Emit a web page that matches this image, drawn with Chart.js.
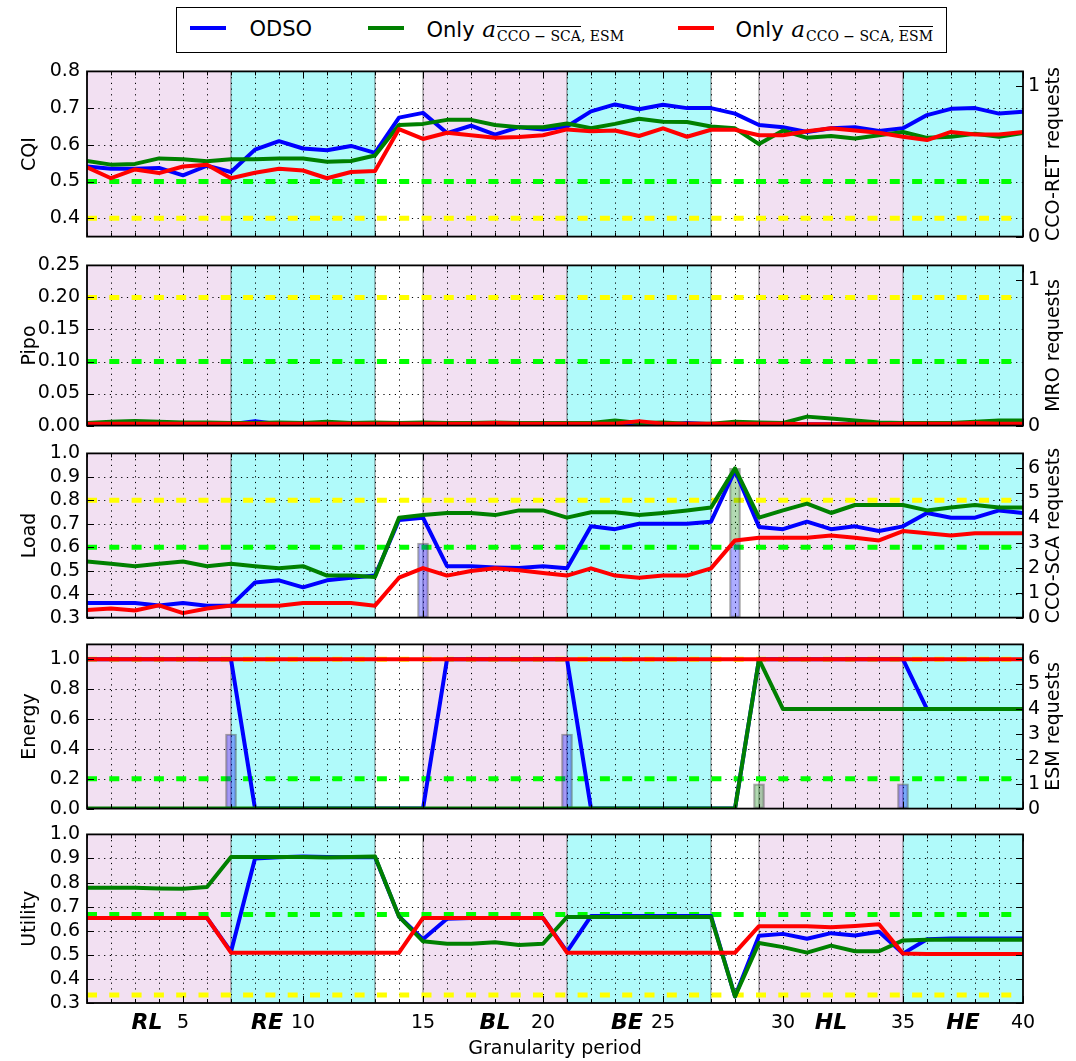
<!DOCTYPE html>
<html>
<head>
<meta charset="utf-8">
<script src="https://cdn.jsdelivr.net/npm/chart.js@4.4.0/dist/chart.umd.min.js"></script>
<style>
  body { margin: 0; background: #fff; width: 1076px; height: 1061px; position: relative; overflow: hidden; font-family: 'DejaVu Sans', sans-serif; }
  canvas { position: absolute; left: 0; }
  #legend { position: absolute; left: 176px; top: 7px; width: 771px; height: 46px; border: 1.5px solid #000; box-sizing: border-box; background: #fff; z-index: 5; }
  #legend .key { position: absolute; top: 18px; width: 36px; height: 4px; }
  #legend .lbl { position: absolute; top: 9px; line-height: 24px; font-size: 21px; white-space: nowrap; color: #000; }
  .m { font-family: 'DejaVu Serif', serif; }
  .m i { font-size: 23px; margin-left: 1px; }
  .m sub { font-size: 14px; font-style: normal; vertical-align: -4px; margin-left: 1px; }
  .ov { border-top: 1.2px solid #000; padding-top: 1px; }
</style>
</head>
<body>
<div id="legend">
  <div class="key" style="left:12.5px;background:#0000ff"></div>
  <span class="lbl" style="left:72.5px">ODSO</span>
  <div class="key" style="left:190.5px;background:#008000"></div>
  <span class="lbl" style="left:249.5px">Only <span class="m"><i>a</i><sub><span class="ov">CCO − SCA</span>, ESM</sub></span></span>
  <div class="key" style="left:500.5px;background:#ff0000"></div>
  <span class="lbl" style="left:558.5px">Only <span class="m"><i>a</i><sub>CCO − SCA, <span class="ov">ESM</span></sub></span></span>
</div>
<script>
// granularity periods
const periods = [1, 2, 3, 4, 5, 6, 7, 8, 9, 10, 11, 12, 13, 14, 15, 16, 17, 18, 19, 20,
                 21, 22, 23, 24, 25, 26, 27, 28, 29, 30, 31, 32, 33, 34, 35, 36, 37, 38, 39, 40];
const xTickLabels = [5, 10, 15, 20, 25, 30, 35, 40];

// traffic phases
const regionStart = [1, 7, 13, 15, 21, 27, 29, 35];
const regionEnd   = [7, 13, 15, 21, 27, 29, 35, 40];
const regionKind  = ['low', 'high', 'idle', 'low', 'high', 'idle', 'low', 'high'];
const regionNames = ['RL', 'RE', 'BL', 'BE', 'HL', 'HE'];
const regionNamePos = [3.5, 8.5, 18, 23.5, 32, 37.5];

// CQI
const cqiOdso  = [0.541, 0.535, 0.535, 0.537, 0.517, 0.543, 0.526, 0.587, 0.610, 0.590, 0.585, 0.597, 0.578, 0.674, 0.687, 0.632, 0.652, 0.628, 0.648, 0.642,
                  0.650, 0.691, 0.710, 0.697, 0.709, 0.700, 0.700, 0.685, 0.654, 0.648, 0.635, 0.645, 0.648, 0.638, 0.645, 0.681, 0.698, 0.700, 0.685, 0.690];
const cqiNoSca = [0.556, 0.546, 0.548, 0.563, 0.561, 0.555, 0.561, 0.561, 0.563, 0.563, 0.554, 0.556, 0.571, 0.654, 0.657, 0.668, 0.668, 0.654, 0.648, 0.648,
                  0.658, 0.645, 0.657, 0.671, 0.663, 0.662, 0.650, 0.645, 0.602, 0.639, 0.619, 0.624, 0.617, 0.626, 0.635, 0.619, 0.622, 0.630, 0.622, 0.632];
const cqiNoEsm = [0.539, 0.509, 0.533, 0.523, 0.541, 0.546, 0.509, 0.524, 0.535, 0.530, 0.509, 0.526, 0.529, 0.643, 0.616, 0.633, 0.626, 0.619, 0.621, 0.626,
                  0.642, 0.637, 0.639, 0.624, 0.645, 0.622, 0.641, 0.641, 0.626, 0.626, 0.637, 0.645, 0.639, 0.633, 0.622, 0.613, 0.635, 0.628, 0.628, 0.635];
const cqiLimits = [0.5, 0.4];
const cqiTicks = [0.4, 0.5, 0.6, 0.7, 0.8];

// Pipo
const pipoOdso  = [0.002, 0.002, 0.002, 0.002, 0.002, 0.003, 0.002, 0.007, 0.002, 0.003, 0.002, 0.003, 0.003, 0.004, 0.002, 0.002, 0.002, 0.001, 0.002, 0.002,
                   0.002, 0.002, 0.002, 0.003, 0.001, 0.004, 0.002, 0.002, 0.003, 0.002, 0.002, 0.002, 0.002, 0.001, 0.002, 0.002, 0.001, 0.001, 0.001, 0.002];
const pipoNoSca = [0.004, 0.006, 0.007, 0.006, 0.005, 0.005, 0.004, 0.004, 0.005, 0.004, 0.006, 0.004, 0.005, 0.004, 0.005, 0.004, 0.004, 0.005, 0.004, 0.004,
                   0.004, 0.004, 0.008, 0.004, 0.005, 0.003, 0.003, 0.006, 0.005, 0.004, 0.014, 0.011, 0.008, 0.005, 0.004, 0.004, 0.004, 0.006, 0.008, 0.008];
const pipoNoEsm = [0.003, 0.003, 0.003, 0.003, 0.003, 0.003, 0.003, 0.003, 0.003, 0.003, 0.003, 0.003, 0.003, 0.003, 0.003, 0.003, 0.003, 0.004, 0.003, 0.003,
                   0.003, 0.003, 0.003, 0.007, 0.003, 0.003, 0.003, 0.003, 0.003, 0.003, 0.002, 0.002, 0.002, 0.002, 0.003, 0.003, 0.003, 0.004, 0.003, 0.003];
const pipoLimits = [0.1, 0.2];
const pipoTicks = [0, 0.05, 0.1, 0.15, 0.2, 0.25];

// Load
const loadOdso  = [0.362, 0.362, 0.362, 0.352, 0.362, 0.351, 0.351, 0.450, 0.459, 0.429, 0.459, 0.470, 0.479, 0.716, 0.726, 0.519, 0.519, 0.514, 0.511, 0.519,
                   0.510, 0.689, 0.677, 0.700, 0.700, 0.700, 0.709, 0.927, 0.686, 0.677, 0.709, 0.677, 0.689, 0.669, 0.689, 0.746, 0.726, 0.726, 0.757, 0.746];
const loadNoSca = [0.539, 0.530, 0.519, 0.530, 0.539, 0.519, 0.530, 0.519, 0.510, 0.519, 0.479, 0.479, 0.473, 0.726, 0.737, 0.746, 0.746, 0.737, 0.757, 0.757,
                   0.726, 0.749, 0.749, 0.737, 0.746, 0.757, 0.769, 0.936, 0.726, 0.757, 0.786, 0.746, 0.780, 0.780, 0.780, 0.757, 0.769, 0.780, 0.769, 0.769];
const loadNoEsm = [0.332, 0.339, 0.330, 0.352, 0.319, 0.339, 0.351, 0.351, 0.351, 0.362, 0.362, 0.362, 0.351, 0.470, 0.511, 0.479, 0.499, 0.510, 0.502, 0.490,
                   0.479, 0.510, 0.479, 0.470, 0.479, 0.479, 0.510, 0.629, 0.640, 0.640, 0.640, 0.650, 0.640, 0.629, 0.669, 0.660, 0.650, 0.660, 0.660, 0.660];
const loadLimits = [0.6, 0.8];
const loadTicks = [0.3, 0.4, 0.5, 0.6, 0.7, 0.8, 0.9, 1.0];
// CCO-SCA requests, stacked: green sits on top of blue
const scaReqOdso  = [0, 0, 0, 0, 0, 0, 0, 0, 0, 0, 0, 0, 0, 0, 3, 0, 0, 0, 0, 0,
                     0, 0, 0, 0, 0, 0, 0, 3, 0, 0, 0, 0, 0, 0, 0, 0, 0, 0, 0, 0];
const scaReqNoSca = [0, 0, 0, 0, 0, 0, 0, 0, 0, 0, 0, 0, 0, 0, 0, 0, 0, 0, 0, 0,
                     0, 0, 0, 0, 0, 0, 0, 3, 0, 0, 0, 0, 0, 0, 0, 0, 0, 0, 0, 0];

// Energy
const energyOdso  = [1, 1, 1, 1, 1, 1, 1, 0, 0, 0, 0, 0, 0, 0, 0, 1, 1, 1, 1, 1,
                     1, 0, 0, 0, 0, 0, 0, 0, 1, 1, 1, 1, 1, 1, 1, 0.667, 0.667, 0.667, 0.667, 0.667];
const energyNoSca = [0, 0, 0, 0, 0, 0, 0, 0, 0, 0, 0, 0, 0, 0, 0, 0, 0, 0, 0, 0,
                     0, 0, 0, 0, 0, 0, 0, 0, 1, 0.667, 0.667, 0.667, 0.667, 0.667, 0.667, 0.667, 0.667, 0.667, 0.667, 0.667];
const energyNoEsm = [1, 1, 1, 1, 1, 1, 1, 1, 1, 1, 1, 1, 1, 1, 1, 1, 1, 1, 1, 1,
                     1, 1, 1, 1, 1, 1, 1, 1, 1, 1, 1, 1, 1, 1, 1, 1, 1, 1, 1, 1];
const energyLimits = [0.2, 1.0];
const energyTicks = [0, 0.2, 0.4, 0.6, 0.8, 1.0];
const esmReqOdso  = [0, 0, 0, 0, 0, 0, 3, 0, 0, 0, 0, 0, 0, 0, 0, 0, 0, 0, 0, 0,
                     3, 0, 0, 0, 0, 0, 0, 0, 0, 0, 0, 0, 0, 0, 1, 0, 0, 0, 0, 0];
const esmReqNoSca = [0, 0, 0, 0, 0, 0, 0, 0, 0, 0, 0, 0, 0, 0, 0, 0, 0, 0, 0, 0,
                     0, 0, 0, 0, 0, 0, 0, 0, 1, 0, 0, 0, 0, 0, 0, 0, 0, 0, 0, 0];

// Utility
const utilOdso  = [0.653, 0.653, 0.653, 0.653, 0.653, 0.653, 0.513, 0.900, 0.905, 0.908, 0.906, 0.905, 0.906, 0.659, 0.565, 0.650, 0.653, 0.653, 0.653, 0.653,
                   0.513, 0.661, 0.661, 0.661, 0.661, 0.661, 0.661, 0.327, 0.579, 0.587, 0.567, 0.590, 0.580, 0.596, 0.505, 0.565, 0.568, 0.568, 0.568, 0.568];
const utilNoSca = [0.778, 0.778, 0.778, 0.775, 0.774, 0.782, 0.906, 0.906, 0.906, 0.906, 0.904, 0.906, 0.908, 0.659, 0.556, 0.546, 0.546, 0.552, 0.541, 0.546,
                   0.657, 0.657, 0.657, 0.657, 0.657, 0.657, 0.657, 0.327, 0.549, 0.532, 0.509, 0.538, 0.515, 0.515, 0.560, 0.563, 0.563, 0.563, 0.563, 0.563];
const utilNoEsm = [0.653, 0.653, 0.653, 0.653, 0.653, 0.653, 0.509, 0.509, 0.509, 0.509, 0.509, 0.509, 0.509, 0.509, 0.653, 0.653, 0.653, 0.653, 0.653, 0.653,
                   0.509, 0.509, 0.509, 0.509, 0.509, 0.509, 0.509, 0.509, 0.619, 0.619, 0.619, 0.614, 0.620, 0.627, 0.505, 0.503, 0.503, 0.503, 0.503, 0.503];
const utilLimits = [0.667, 0.333];
const utilTicks = [0.3, 0.4, 0.5, 0.6, 0.7, 0.8, 0.9, 1.0];

const BLUE = '#0000ff', GREEN = '#008000', RED = '#ff0000';
const LIME = '#00ff00', YELLOW = '#ffff00';
const regionFill = { low: '#f2e0f2', high: '#b0fafa', idle: null };
const FONT = "'DejaVu Sans', sans-serif";

const panels = [
  { top: 67,  bottom: 241, title: 'CQI', min: 0.35, max: 0.8, ticks: cqiTicks, digits: 1,
    series: [cqiOdso, cqiNoSca, cqiNoEsm], limits: [[cqiLimits[0], LIME], [cqiLimits[1], YELLOW]],
    right: 'CCO-RET requests', rmax: 1.1, rticks: [0, 1], bars: [] },
  { top: 261, bottom: 430, title: 'Pipo', min: 0, max: 0.25, ticks: pipoTicks, digits: 2,
    series: [pipoOdso, pipoNoSca, pipoNoEsm], limits: [[pipoLimits[0], LIME], [pipoLimits[1], YELLOW]],
    right: 'MRO requests', rmax: 1.1, rticks: [0, 1], bars: [] },
  { top: 449, bottom: 622, title: 'Load', min: 0.3, max: 1.0, ticks: loadTicks, digits: 1,
    series: [loadOdso, loadNoSca, loadNoEsm], limits: [[loadLimits[0], LIME], [loadLimits[1], YELLOW]],
    right: 'CCO-SCA requests', rmax: 6.6, rticks: [0, 1, 2, 3, 4, 5, 6],
    bars: [[scaReqOdso, 'rgba(0,0,255,0.32)', 5], [scaReqNoSca, 'rgba(0,128,0,0.3)', 6]] },
  { top: 640, bottom: 813, title: 'Energy', min: 0, max: 1.1, ticks: energyTicks, digits: 1,
    series: [energyOdso, energyNoSca, energyNoEsm], limits: [[energyLimits[0], LIME], [energyLimits[1], YELLOW]],
    right: 'ESM requests', rmax: 6.6, rticks: [0, 1, 2, 3, 4, 5, 6],
    bars: [[esmReqOdso, 'rgba(0,0,255,0.32)', 5], [esmReqNoSca, 'rgba(0,128,0,0.3)', 6]] },
  { top: 830, bottom: 1003, title: 'Utility', min: 0.3, max: 1.0, ticks: utilTicks, digits: 1,
    series: [utilOdso, utilNoSca, utilNoEsm], limits: [[utilLimits[0], LIME], [utilLimits[1], YELLOW]],
    right: null, bars: [] }
];

function lineSet(values, color, order) {
  return {
    type: 'line',
    data: values.map((v, i) => ({ x: periods[i], y: v })),
    borderColor: color, borderWidth: 4, pointRadius: 0, tension: 0, order: order,
    borderJoinStyle: 'round'
  };
}

function limitSet(v, color) {
  return {
    type: 'line',
    data: [{ x: periods[0], y: v }, { x: periods[periods.length - 1], y: v }],
    borderColor: color, borderWidth: 5, borderDash: [10, 12.3], borderCapStyle: 'butt',
    pointRadius: 0, order: 10
  };
}

function barSet(reqs, fill, order) {
  const pts = [];
  reqs.forEach((r, i) => { if (r > 0) pts.push({ x: periods[i], y: r }); });
  return {
    type: 'bar', data: pts, yAxisID: 'y1', backgroundColor: fill,
    borderColor: 'rgba(60,60,60,0.45)', borderWidth: 1.5, borderSkipped: false,
    barThickness: 11, grouped: false, order: order
  };
}

function decor(p, isLast) {
  return {
    id: 'decor',
    beforeDraw(chart) {
      const { ctx, chartArea: a } = chart;
      const x = chart.scales.x;
      ctx.save();
      regionStart.forEach((s, i) => {
        const fill = regionFill[regionKind[i]];
        if (!fill) return;
        const x0 = x.getPixelForValue(s), x1 = x.getPixelForValue(regionEnd[i]);
        ctx.fillStyle = fill;
        ctx.fillRect(x0, a.top, x1 - x0, a.bottom - a.top);
      });
      ctx.restore();
    },
    beforeDatasetsDraw(chart) {
      const { ctx, chartArea: a } = chart;
      const x = chart.scales.x, y = chart.scales.y;
      ctx.save();
      // dotted grid
      ctx.strokeStyle = '#000';
      ctx.lineWidth = 1;
      ctx.setLineDash([1.2, 4.5]);
      periods.slice(1, -1).forEach(v => {
        const px = Math.round(x.getPixelForValue(v)) + 0.5;
        ctx.beginPath(); ctx.moveTo(px, a.top); ctx.lineTo(px, a.bottom); ctx.stroke();
      });
      p.ticks.forEach(v => {
        if (v <= p.min || v >= p.max) return;
        const py = Math.round(y.getPixelForValue(v)) + 0.5;
        ctx.beginPath(); ctx.moveTo(a.left, py); ctx.lineTo(a.right, py); ctx.stroke();
      });
      // phase boundaries
      ctx.setLineDash([]);
      ctx.strokeStyle = 'rgba(0,0,0,0.35)';
      ctx.lineWidth = 1.5;
      regionStart.slice(1).forEach(v => {
        const px = x.getPixelForValue(v);
        ctx.beginPath(); ctx.moveTo(px, a.top); ctx.lineTo(px, a.bottom); ctx.stroke();
      });
      ctx.restore();
    },
    afterDraw(chart) {
      const { ctx, chartArea: a } = chart;
      const x = chart.scales.x, y = chart.scales.y, y1 = chart.scales.y1;
      ctx.save();
      // inward tick marks
      ctx.strokeStyle = '#000';
      ctx.lineWidth = 1;
      periods.forEach(v => {
        const px = Math.round(x.getPixelForValue(v)) + 0.5;
        const len = v % 5 === 0 ? 7 : 4;
        ctx.beginPath();
        ctx.moveTo(px, a.bottom); ctx.lineTo(px, a.bottom - len);
        ctx.moveTo(px, a.top); ctx.lineTo(px, a.top + len);
        ctx.stroke();
      });
      p.ticks.forEach(v => {
        const py = Math.round(y.getPixelForValue(v)) + 0.5;
        ctx.beginPath(); ctx.moveTo(a.left, py); ctx.lineTo(a.left + 7, py); ctx.stroke();
        if (!p.right) { ctx.beginPath(); ctx.moveTo(a.right, py); ctx.lineTo(a.right - 7, py); ctx.stroke(); }
      });
      if (p.right) {
        p.rticks.forEach(v => {
          const py = Math.round(y1.getPixelForValue(v)) + 0.5;
          ctx.beginPath(); ctx.moveTo(a.right, py); ctx.lineTo(a.right - 7, py); ctx.stroke();
        });
      }
      // frame
      ctx.lineWidth = 1.8;
      ctx.strokeRect(a.left, a.top, a.right - a.left, a.bottom - a.top);
      // axis titles
      ctx.fillStyle = '#000';
      ctx.font = '19px ' + FONT;
      ctx.textAlign = 'center';
      ctx.textBaseline = 'middle';
      const cy = (a.top + a.bottom) / 2;
      ctx.save(); ctx.translate(30, cy); ctx.rotate(-Math.PI / 2); ctx.fillText(p.title, 0, 0); ctx.restore();
      if (p.right) {
        ctx.save(); ctx.translate(1054, cy); ctx.rotate(-Math.PI / 2); ctx.fillText(p.right, 0, 0); ctx.restore();
      }
      if (isLast) {
        ctx.font = 'italic bold 22px ' + FONT;
        regionNames.forEach((n, i) => ctx.fillText(n, x.getPixelForValue(regionNamePos[i]), a.bottom + 20));
        ctx.font = '19px ' + FONT;
        ctx.fillText('Granularity period', (a.left + a.right) / 2, a.bottom + 46);
      }
      ctx.restore();
    }
  };
}

panels.forEach((p, idx) => {
  const isLast = idx === panels.length - 1;
  const pad = 14;
  const cTop = p.top - pad;
  const cBottom = isLast ? 1061 : p.bottom + pad;
  const cv = document.createElement('canvas');
  cv.width = 1076;
  cv.height = cBottom - cTop;
  cv.style.top = cTop + 'px';
  document.body.appendChild(cv);

  const datasets = [
    lineSet(p.series[2], RED, 1),
    lineSet(p.series[1], GREEN, 2),
    lineSet(p.series[0], BLUE, 3)
  ];
  p.bars.forEach(b => datasets.push(barSet(b[0], b[1], b[2])));
  p.limits.forEach(l => datasets.push(limitSet(l[0], l[1])));

  const scales = {
    x: {
      type: 'linear', min: periods[0], max: periods[periods.length - 1], offset: false,
      grid: { display: false, drawTicks: false }, border: { display: false },
      afterBuildTicks: s => { s.ticks = periods.map(v => ({ value: v })); },
      afterFit: s => { s.height = isLast ? 58 : 0; },
      ticks: {
        display: isLast, autoSkip: false, maxRotation: 0, padding: 9, color: '#000',
        font: { family: FONT, size: 19 },
        callback: v => (xTickLabels.includes(v) ? String(v) : '')
      }
    },
    y: {
      position: 'left', min: p.min, max: p.max,
      grid: { display: false, drawTicks: false }, border: { display: false },
      afterBuildTicks: s => { s.ticks = p.ticks.map(v => ({ value: v })); },
      afterFit: s => { s.width = 87; },
      ticks: {
        autoSkip: false, padding: 7, color: '#000', font: { family: FONT, size: 19 },
        callback: v => v.toFixed(p.digits)
      }
    }
  };
  if (p.right) {
    scales.y1 = {
      position: 'right', min: 0, max: p.rmax, stacked: true,
      grid: { display: false, drawTicks: false }, border: { display: false },
      afterBuildTicks: s => { s.ticks = p.rticks.map(v => ({ value: v })); },
      afterFit: s => { s.width = 53; },
      ticks: {
        autoSkip: false, padding: 5, color: '#000', font: { family: FONT, size: 19 },
        callback: v => String(v)
      }
    };
  }

  new Chart(cv, {
    type: 'line',
    data: { datasets: datasets },
    options: {
      responsive: false, animation: false, devicePixelRatio: 1,
      layout: { padding: { top: pad, bottom: isLast ? 0 : pad, left: 0, right: p.right ? 0 : 53 } },
      plugins: { legend: { display: false }, tooltip: { enabled: false } },
      scales: scales
    },
    plugins: [decor(p, isLast)]
  });
});
</script>
</body>
</html>
